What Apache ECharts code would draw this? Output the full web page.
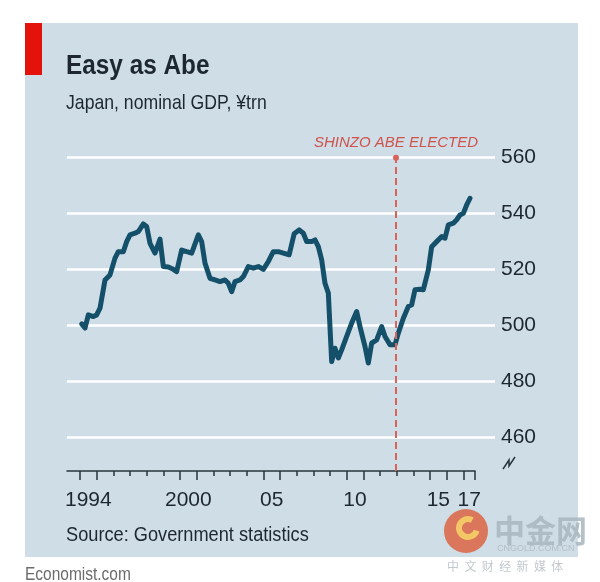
<!DOCTYPE html>
<html>
<head>
<meta charset="utf-8">
<script src="https://cdn.jsdelivr.net/npm/echarts@6/dist/echarts.min.js"></script>
<style>
html,body{margin:0;padding:0;background:#fff;}
#chart{width:600px;height:582px;}
</style>
</head>
<body>
<div id="chart"></div>
<script>
// ---- data ----
const periods = [1994.1,1994.3,1994.5,1994.8,1995.0,1995.2,1995.5,1995.8,1996.1,1996.3,1996.6,1996.8,
  1997.0,1997.3,1997.5,1997.8,1998.0,1998.2,1998.5,1998.6,1998.8,1999.0,1999.3,1999.6,1999.8,
  2000.1,2000.4,2000.7,2001.1,2001.3,2001.5,2001.8,2002.1,2002.4,2002.7,2002.9,2003.1,2003.3,
  2003.6,2003.8,2004.1,2004.4,2004.7,2005.0,2005.3,2005.6,2005.9,2006.2,2006.55,2006.85,
  2007.15,2007.4,2007.6,2007.9,2008.1,2008.3,2008.5,2008.7,2008.9,2009.1,2009.3,2009.5,2009.7,
  2010.0,2010.3,2010.6,2010.8,2011.1,2011.3,2011.5,2011.8,2012.1,2012.3,2012.6,2012.9,
  2013.1,2013.4,2013.7,2013.9,2014.1,2014.4,2014.6,2014.9,2015.1,2015.4,2015.7,2015.9,
  2016.1,2016.4,2016.6,2016.8,2017.0,2017.2,2017.4];
const gdp = [500.6,499.1,503.8,503.2,503.8,506.2,516.3,518.1,524.1,526.4,526.4,530.0,
  532.4,533.0,533.6,536.3,535.4,529.4,525.9,525.3,530.9,521.1,520.9,520.1,519.3,
  527.0,526.4,525.9,532.4,530.0,522.3,516.9,516.3,515.7,516.3,515.1,512.1,515.7,
  516.3,517.5,521.1,520.5,521.1,520.1,522.9,526.4,526.4,525.9,525.3,532.8,
  534.2,533.0,530.0,530.0,530.6,528.2,523.5,515.1,511.6,487.1,491.9,488.4,491.3,
  496.1,500.9,505.0,499.6,492.5,486.6,493.7,494.9,499.6,496.1,493.1,493.1,
  497.3,502.6,506.8,507.4,512.8,513.0,512.8,519.9,528.2,530.0,531.8,531.2,
  536.0,536.6,537.8,539.5,540.1,543.1,545.5];
const yearTicks = [1994,1995,1996,1997,1998,1999,2000,2001,2002,2003,2004,2005,2006,2007,2008,2009,2010,2011,2012,2013,2014,2015,2016,2017];
const longTicks = [1994,1995,2000,2001,2005,2006,2010,2011,2015,2016,2017,2017.7];
const labelPositions = [1994.5,2000.5,2005.5,2010.5,2015.5,2017.35];
const labelTexts = ['1994','2000','05','10','15','17'];
const xRange = [1993.22, 2017.7];
const yRange = [448, 560];
const yTickMin = 440;
const abeElected = 2012.96;
const abeLabel = 'SHINZO ABE ELECTED';

const FONT = "'Liberation Sans', sans-serif";
const TXT = '#1d2731';

const chart = echarts.init(document.getElementById('chart'), null, {renderer:'canvas'});
const lineData = periods.map((p,i)=>[p,gdp[i]]);

const option = {
  backgroundColor:'#ffffff',
  animation:false,
  graphic:[
    {type:'rect', shape:{x:25,y:23,width:553,height:534}, style:{fill:'#cfdde6'}, z:-10},
    {type:'rect', shape:{x:25,y:23,width:17,height:52}, style:{fill:'#e3120b'}, z:-5},
    {type:'text', x:66, y:66, scaleX:0.87, style:{text:'Easy as Abe', font:"bold 28px "+FONT, fill:TXT, verticalAlign:'middle'}},
    {type:'text', x:66, y:103, scaleX:0.84, style:{text:'Japan, nominal GDP, ¥trn', font:"21px "+FONT, fill:TXT, verticalAlign:'middle'}},
    {type:'text', x:66, y:535, scaleX:0.91, style:{text:'Source: Government statistics', font:"20px "+FONT, fill:TXT, verticalAlign:'middle'}},
    {type:'text', x:25, y:575, scaleX:0.86, style:{text:'Economist.com', font:"18px "+FONT, fill:'#6b6b6b', verticalAlign:'middle'}},
    {type:'polyline', shape:{points:[[503,469],[509,460],[509,466],[515,457]]}, style:{stroke:'#27343d', lineWidth:1.5, fill:null}},
    // watermark
    {type:'circle', shape:{cx:466,cy:531,r:22}, style:{fill:'#d96a4c', opacity:0.9}},
    {type:'arc', shape:{cx:468,cy:528,r:9,startAngle:0.3,endAngle:5.2}, style:{stroke:'#f3c766', lineWidth:6, fill:null}},
    {type:'text', x:494, y:530, style:{text:'中金网', font:"bold 31px 'Noto Sans CJK SC'", fill:'#a7b6be', verticalAlign:'middle', opacity:0.85}},
    {type:'text', x:497, y:549, style:{text:'CNGOLD.COM.CN', font:"9px "+FONT, fill:'#b3bfc6', verticalAlign:'middle'}},
    {type:'text', x:447, y:566, style:{text:'中  文  财  经  新  媒  体', font:"12px 'Noto Sans CJK SC'", fill:'#c2c9cd', verticalAlign:'middle'}}
  ],
  grid:[
    {left:67, right:105, top:157.7, bottom:582-493.7},
    {left:67, right:125, top:157.7, bottom:111}
  ],
  xAxis:[
    {gridIndex:0, type:'value', show:false, min:0, max:1},
    {gridIndex:1, type:'value', position:'bottom', min:xRange[0], max:xRange[1],
      axisLine:{show:true, lineStyle:{color:'#27343d', width:1.5}},
      axisTick:{show:true, length:5, customValues:yearTicks, lineStyle:{color:'#27343d', width:1.5}},
      axisLabel:{show:true, customValues:labelPositions, margin:19,
        formatter:(v)=>{const i=labelPositions.indexOf(v); return i>=0?labelTexts[i]:'';},
        color:TXT, fontSize:21, fontFamily:FONT},
      splitLine:{show:false}},
    {gridIndex:1, type:'value', position:'bottom', min:xRange[0], max:xRange[1],
      axisLine:{show:false},
      axisTick:{show:true, length:9, customValues:longTicks, lineStyle:{color:'#27343d', width:1.5}},
      axisLabel:{show:false}, splitLine:{show:false}}
  ],
  yAxis:[
    {gridIndex:0, type:'value', position:'right', min:yTickMin, max:yRange[1], interval:20,
      axisLine:{show:false}, axisTick:{show:false},
      splitLine:{show:true, showMinLine:false, lineStyle:{color:'#ffffff', width:2.5}},
      axisLabel:{showMinLabel:false, margin:6, color:TXT, fontSize:21, fontFamily:FONT}},
    {gridIndex:1, type:'value', show:false, min:yRange[0], max:yRange[1], splitLine:{show:false}}
  ],
  series:[
    {type:'line', xAxisIndex:1, yAxisIndex:1, data:lineData, showSymbol:false, symbol:'none',
      lineStyle:{color:'#15506a', width:5, join:'round', cap:'round'}, z:3},
    {type:'line', xAxisIndex:1, yAxisIndex:1, data:[], z:4,
      markLine:{silent:true, symbol:['none','circle'], symbolSize:6,
        lineStyle:{color:'#d9635b', type:[7,4], width:2},
        label:{show:true, position:'end', distance:7, formatter:abeLabel, color:'#d0524c',
          fontStyle:'italic', fontSize:15, fontFamily:FONT},
        data:[[{coord:[abeElected, yRange[0]]},{coord:[abeElected, yRange[1]]}]]}}
  ]
};
chart.setOption(option);
</script>
</body>
</html>
